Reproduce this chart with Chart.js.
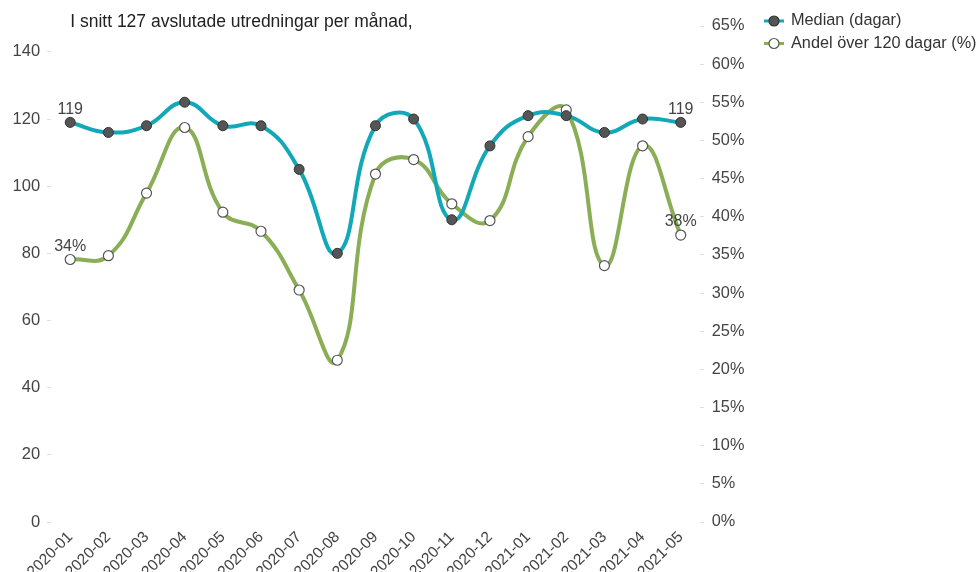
<!DOCTYPE html>
<html>
<head>
<meta charset="utf-8">
<script src="https://cdn.jsdelivr.net/npm/chart.js@4.4.1/dist/chart.umd.min.js"></script>
<style>
html,body{margin:0;padding:0;background:#fff;}
#wrap{width:977px;height:572px;position:relative;}
</style>
</head>
<body>
<div id="wrap"><canvas id="c" width="977" height="572"></canvas></div>
<script>
const titleText = "I snitt 127 avslutade utredningar per månad,";
const months = ["2020-01","2020-02","2020-03","2020-04","2020-05","2020-06","2020-07","2020-08","2020-09","2020-10","2020-11","2020-12","2021-01","2021-02","2021-03","2021-04","2021-05"];
const medianDays = [119,116,118,125,118,118,105,80,118,120,90,112,121,121,116,120,119];
const shareOver120 = [34.4,34.9,43.1,51.7,40.6,38.1,30.4,21.2,45.6,47.5,41.7,39.5,50.5,54.0,33.6,49.3,37.6];
const seriesNames = ["Median (dagar)","Andel över 120 dagar (%)"];

const FONT = "'Liberation Sans', Arial, sans-serif";
const TEAL = '#12A8B8';
const GREEN = '#8AAE56';

const overlay = {
  id: 'overlay',
  afterDatasetsDraw(chart) {
    const ctx = chart.ctx;
    ctx.save();
    ctx.font = '16px ' + FONT;
    ctx.fillStyle = '#444';
    ctx.textAlign = 'center';
    ctx.textBaseline = 'bottom';
    chart.data.datasets.forEach((ds, di) => {
      const meta = chart.getDatasetMeta(di);
      const n = ds.data.length;
      [0, n - 1].forEach(i => {
        const el = meta.data[i];
        const v = ds.data[i];
        const txt = di === 0 ? String(Math.round(v)) : Math.round(v) + '%';
        ctx.fillText(txt, el.x, el.y - 5);
      });
    });
    ctx.restore();
  },
  afterDraw(chart) {
    const ctx = chart.ctx;
    ctx.save();
    ctx.font = '17.5px ' + FONT;
    ctx.fillStyle = '#222';
    ctx.textAlign = 'left';
    ctx.textBaseline = 'middle';
    const x0 = chart.getDatasetMeta(0).data[0].x;
    ctx.fillText(titleText, x0, 22);
    const items = [
      {name: seriesNames[0], line: TEAL, fill: '#555', stroke: '#333'},
      {name: seriesNames[1], line: GREEN, fill: '#fff', stroke: '#555'}
    ];
    items.forEach((it, k) => {
      const y = 21 + k * 22.5;
      const lx = 764;
      ctx.strokeStyle = it.line;
      ctx.lineWidth = 3;
      ctx.beginPath(); ctx.moveTo(lx, y); ctx.lineTo(lx + 20, y); ctx.stroke();
      ctx.beginPath(); ctx.arc(lx + 10, y, 5, 0, Math.PI * 2);
      ctx.fillStyle = it.fill; ctx.fill();
      ctx.lineWidth = 1.2; ctx.strokeStyle = it.stroke; ctx.stroke();
      ctx.fillStyle = '#333';
      ctx.font = '16.3px ' + FONT;
      ctx.fillText(it.name, lx + 27, y);
    });
    ctx.restore();
  }
};

new Chart(document.getElementById('c'), {
  type: 'line',
  data: {
    labels: months,
    datasets: [
      {
        label: seriesNames[0], data: medianDays, yAxisID: 'y',
        borderColor: TEAL, borderWidth: 4, tension: 0.45,
        pointRadius: 5, pointBackgroundColor: '#555', pointBorderColor: '#333', pointBorderWidth: 1
      },
      {
        label: seriesNames[1], data: shareOver120, yAxisID: 'y1',
        borderColor: GREEN, borderWidth: 4, tension: 0.45,
        pointRadius: 5, pointBackgroundColor: '#fff', pointBorderColor: '#555', pointBorderWidth: 1.2
      }
    ]
  },
  options: {
    responsive: false,
    animation: false,
    layout: {padding: {left: 5.6, right: 224.6, top: 26, bottom: 0}},
    plugins: {legend: {display: false}, title: {display: false}, tooltip: {enabled: false}},
    scales: {
      x: {
        offset: true,
        afterFit: s => { s.height = 50; },
        grid: {display: false, drawTicks: false},
        border: {display: false},
        ticks: {
          font: {family: FONT, size: 15.5}, color: '#444',
          minRotation: 45, maxRotation: 45, padding: 6, autoSkip: false
        }
      },
      y: {
        position: 'left', min: 0, max: 147.7,
        afterBuildTicks: s => { s.ticks = s.ticks.filter(t => t.value % 20 === 0); },
        ticks: {stepSize: 20, font: {family: FONT, size: 16.5}, color: '#444', padding: 7},
        grid: {drawOnChartArea: false, drawTicks: true, tickLength: 4, color: '#ddd'},
        border: {display: false}
      },
      y1: {
        position: 'right', min: 0, max: 65,
        ticks: {stepSize: 5, font: {family: FONT, size: 16.3}, color: '#444', padding: 8,
          callback: v => v + '%'},
        grid: {drawOnChartArea: false, drawTicks: true, tickLength: 4, color: '#ddd'},
        border: {display: false}
      }
    }
  },
  plugins: [overlay]
});
</script>
</body>
</html>
